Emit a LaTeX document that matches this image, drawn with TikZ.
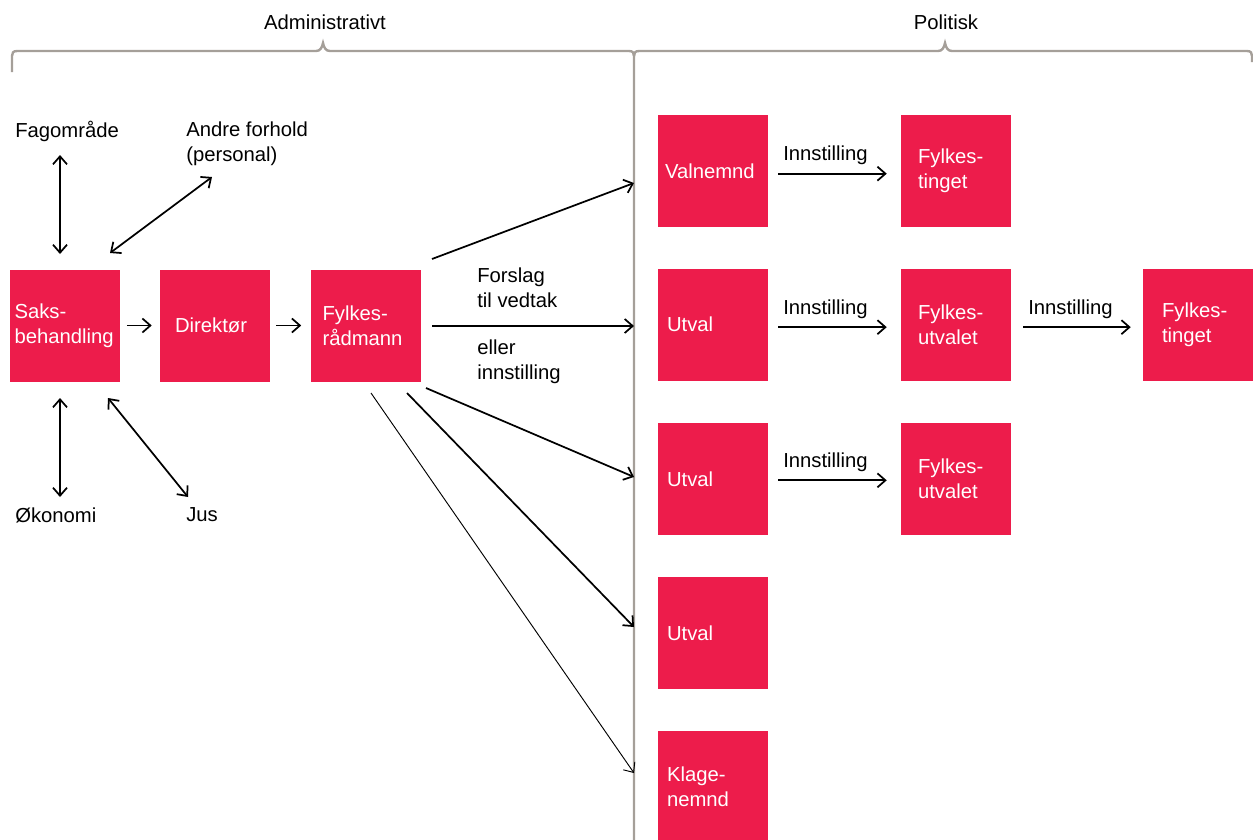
\documentclass[tikz,border=0pt]{standalone}
\usepackage{fontspec}
\setmainfont{Liberation Sans}
\usetikzlibrary{arrows.meta,calc}
\definecolor{boxred}{RGB}{237,28,75}
\definecolor{bracegray}{RGB}{165,159,153}
\begin{document}
\begin{tikzpicture}[x=0.75pt,y=-0.75pt,
  txt/.style={font=\fontsize{15.2pt}{18.5pt}\selectfont, inner sep=0pt, align=left},
  box/.style={fill=boxred, text=white, font=\fontsize{15.2pt}{18.5pt}\selectfont,
    minimum width=82.5pt, minimum height=84pt, align=left, inner ysep=0pt},
  tip/.tip={Straight Barb[length=6pt,width=10.5pt]},
  arr/.style={line width=1.3pt, -tip},
  thinarr/.style={line width=0.7pt, -tip},
  dbl/.style={line width=1.3pt, tip-tip},
  bracestyle/.style={draw=bracegray, line width=1.8pt}]
\clip (0,0) rectangle (1253,839);

% braces and divider
\draw[bracestyle] (12,72) -- (12,56) .. controls (12,53) and (13,51) .. (17,51)
  -- (316,51) .. controls (320,51) and (322,48) .. (323,43)
  .. controls (324,48) and (326,51) .. (330,51) -- (629,51)
  .. controls (633,51) and (634,53) .. (634,56) -- (634,845);
\draw[bracestyle] (634,56) .. controls (634,53) and (635,51) .. (639,51)
  -- (938,51) .. controls (942,51) and (944,48) .. (945,43)
  .. controls (946,48) and (948,51) .. (952,51) -- (1247,51)
  .. controls (1251,51) and (1252,53) .. (1252,56) -- (1252,62);

% headings
\node[txt] (adm) at (325,22) {Administrativt};
\node[txt] (pol) at (946,22) {Politisk};

% boxes
\node[box, inner xsep=3.75pt, text width=75pt] (saks) at (64.5,325.5) {Saks-\\behandling};
\node[box, inner xsep=11.25pt, text width=60pt] (dir) at (215,325.5) {Direktør};
\node[box, inner xsep=9pt, text width=64.5pt] (fr) at (365.5,325.5) {Fylkes-\\rådmann};
\node[box, inner xsep=5.25pt, text width=72pt] (valn) at (713,171) {Valnemnd};
\node[box, inner xsep=12.75pt, text width=57pt] (ft1) at (956,171) {Fylkes-\\tinget};
\node[box, inner xsep=6.75pt, text width=69pt] (ut1) at (713,324.5) {Utval};
\node[box, inner xsep=12.75pt, text width=57pt] (fu1) at (956,324.5) {Fylkes-\\utvalet};
\node[box, inner xsep=14.25pt, text width=54pt] (ft2) at (1198,324.5) {Fylkes-\\tinget};
\node[box, inner xsep=6.75pt, text width=69pt] (ut2) at (713,479) {Utval};
\node[box, inner xsep=12.75pt, text width=57pt] (fu2) at (956,479) {Fylkes-\\utvalet};
\node[box, inner xsep=6.75pt, text width=69pt] (ut3) at (713,633) {Utval};
\node[box, inner xsep=6.75pt, text width=69pt] (klage) at (713,787) {Klage-\\nemnd};

% side labels
\node[txt, anchor=west] (fag) at (15,131) {Fagområde};
\node[txt, anchor=west] (andre) at (186,144) {Andre forhold\\(personal)};
\node[txt, anchor=west] (oko) at (15,515) {Økonomi};
\node[txt, anchor=west] (jus) at (186,515) {Jus};
\node[txt, anchor=west] (forslag) at (477,288) {Forslag\\til vedtak};
\node[txt, anchor=west] (eller) at (477,362) {eller\\innstilling};
\node[txt, anchor=west] (i1) at (783,155) {Innstilling};
\node[txt, anchor=west] (i2) at (783,309) {Innstilling};
\node[txt, anchor=west] (i3) at (1028,309) {Innstilling};
\node[txt, anchor=west] (i4) at (783,462) {Innstilling};

% coordinates for free connector ends
\coordinate (fa1) at (60,155); \coordinate (fa2) at (60,254);
\coordinate (an1) at (212,177); \coordinate (an2) at (110,253);
\coordinate (ok1) at (60,398); \coordinate (ok2) at (60,497);
\coordinate (ju1) at (108,398); \coordinate (ju2) at (188,497);
\coordinate (s1) at (432,259); \coordinate (e1) at (634,183);
\coordinate (s2) at (432,326); \coordinate (e2) at (634,326);
\coordinate (s3) at (426,388); \coordinate (e3) at (634,477);
\coordinate (s4) at (407,393); \coordinate (e4) at (634,627);
\coordinate (s5) at (371,393); \coordinate (e5) at (634,773);

% left connectors
\draw[dbl] (fa1) -- (fa2);
\draw[dbl] (an1) -- (an2);
\draw[dbl] (ok1) -- (ok2);
\draw[dbl] (ju1) -- (ju2);
\draw[arr, shorten <=5.25pt, shorten >=6pt] (saks) -- (dir);
\draw[arr, shorten <=4.5pt, shorten >=6.75pt] (dir) -- (fr);

% from Fylkesradmann
\draw[arr] (s1) -- (e1);
\draw[arr] (s2) -- (e2);
\draw[arr] (s3) -- (e3);
\draw[arr] (s4) -- (e4);
\draw[thinarr] (s5) -- (e5);

% Innstilling connectors
\draw[arr, shorten <=7.5pt, shorten >=10.5pt] ([yshift=-2pt]valn.east) -- ([yshift=-2pt]ft1.west);
\draw[arr, shorten <=7.5pt, shorten >=10.5pt] ([yshift=-2pt]ut1.east) -- ([yshift=-2pt]fu1.west);
\draw[arr, shorten <=9pt, shorten >=9pt] ([yshift=-2pt]fu1.east) -- ([yshift=-2pt]ft2.west);
\draw[arr, shorten <=7.5pt, shorten >=10.5pt] ([yshift=-1pt]ut2.east) -- ([yshift=-1pt]fu2.west);
\end{tikzpicture}
\end{document}
